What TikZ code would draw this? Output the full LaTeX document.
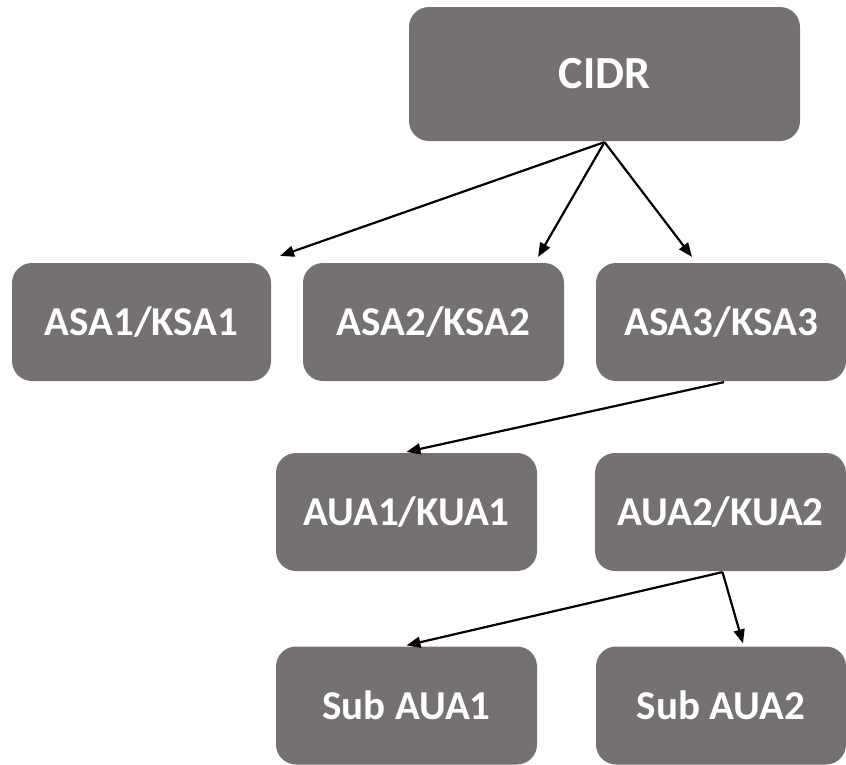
\documentclass[tikz,border=0pt]{standalone}
\usepackage{fontspec}
\setmainfont{Carlito}
\usetikzlibrary{arrows.meta}
\definecolor{boxgray}{RGB}{118,113,113}

\begin{document}
\begin{tikzpicture}[x=1pt, y=-1pt, line width=2.2pt, >={Triangle[length=14pt,width=11pt]},
  box/.style={fill=boxgray, rounded corners=20pt, text=white, inner sep=0pt, minimum height=118pt, font=\bfseries\fontsize{41}{48}\selectfont}]
\useasboundingbox (0,0) rectangle (846,764);
\node [box, minimum width=391pt, minimum height=134pt, font=\bfseries\fontsize{46}{54}\selectfont] (cidr) at (604.5,74) {CIDR};
\node [box, minimum width=259pt] (asa1) at (141.5,322) {ASA1/KSA1};
\node [box, minimum width=261pt] (asa2) at (433.5,322) {ASA2/KSA2};
\node [box, minimum width=250pt] (asa3) at (721,322) {ASA3/KSA3};
\node [box, minimum width=261pt] (aua1) at (406.5,512) {AUA1/KUA1};
\node [box, minimum width=251pt] (aua2) at (720.5,512) {AUA2/KUA2};
\node [box, minimum width=261pt] (sub1) at (406.5,705.5) {Sub AUA1};
\node [box, minimum width=250pt] (sub2) at (721,705.5) {Sub AUA2};
\draw [->] (cidr.south) -- ([xshift=8pt,yshift=6pt]asa1.north east);
\draw [->] (cidr.south) -- ([xshift=-27pt,yshift=5pt]asa2.north east);
\draw [->] (cidr.south) -- ([xshift=-29pt,yshift=5pt]asa3.north);
\draw [->] ([xshift=3pt]asa3.south) -- (aua1.north);
\draw [->] ([xshift=2pt]aua2.south) -- (sub1.north);
\draw [->] ([xshift=2pt]aua2.south) -- ([xshift=22pt,yshift=2pt]sub2.north);
\end{tikzpicture}
\end{document}
